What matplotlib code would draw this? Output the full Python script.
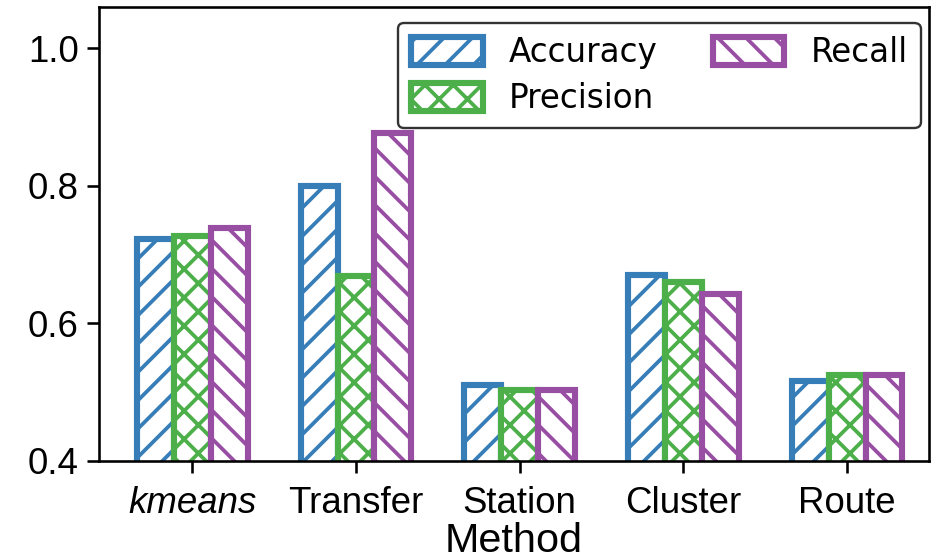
import numpy as np
import matplotlib
matplotlib.use('Agg')
from matplotlib import pyplot as plt

methods = ['kmeans', 'Transfer', 'Station', 'Cluster', 'Route']
accuracy = [0.722, 0.800, 0.510, 0.670, 0.516]
precision = [0.727, 0.669, 0.503, 0.660, 0.525]
recall = [0.739, 0.877, 0.503, 0.643, 0.525]

series = [('Accuracy', accuracy, '#377eb8', '//'),
          ('Precision', precision, '#4daf4a', 'xx'),
          ('Recall', recall, '#984ea3', '\\\\')]

plt.rcParams['font.family'] = ['Liberation Sans', 'DejaVu Sans']
plt.rcParams['hatch.linewidth'] = 1.6

dpi = 170
fig = plt.figure(figsize=(941 / dpi, 560 / dpi), dpi=dpi)
ax = fig.add_axes([0.1052, 0.1768, 0.882, 0.8107])

x = np.arange(len(methods))
w = 0.225
for i, (name, vals, col, hatch) in enumerate(series):
    ax.bar(x + (i - 1) * w, vals, width=w, facecolor='white',
           edgecolor=col, hatch=hatch, linewidth=2.6, label=name)

ax.set_xlim(-0.57, 4.5)
ax.set_ylim(0.4, 1.06)
ax.set_yticks([0.4, 0.6, 0.8, 1.0])
ax.set_yticklabels(['0.4', '0.6', '0.8', '1.0'])
ax.set_xticks(x)
ax.set_xticklabels(methods)
ax.get_xticklabels()[0].set_style('italic')
ax.tick_params(labelsize=15.5, length=5, width=1.1)
ax.tick_params(axis='x', pad=5.5)
for s in ax.spines.values():
    s.set_linewidth(1.1)
ax.set_xlabel('Method', fontsize=17.5, labelpad=0.5)

leg = ax.legend(loc='upper right', bbox_to_anchor=(0.990, 0.9648), ncol=2,
                borderaxespad=0, prop={'family': 'DejaVu Sans', 'size': 13.8},
                handlelength=2.2, handleheight=0.95, labelspacing=0.4,
                columnspacing=1.7, framealpha=1)
leg.get_frame().set_edgecolor('#333333')
leg.get_frame().set_linewidth(1.0)

fig.savefig('out.png', dpi=dpi)
